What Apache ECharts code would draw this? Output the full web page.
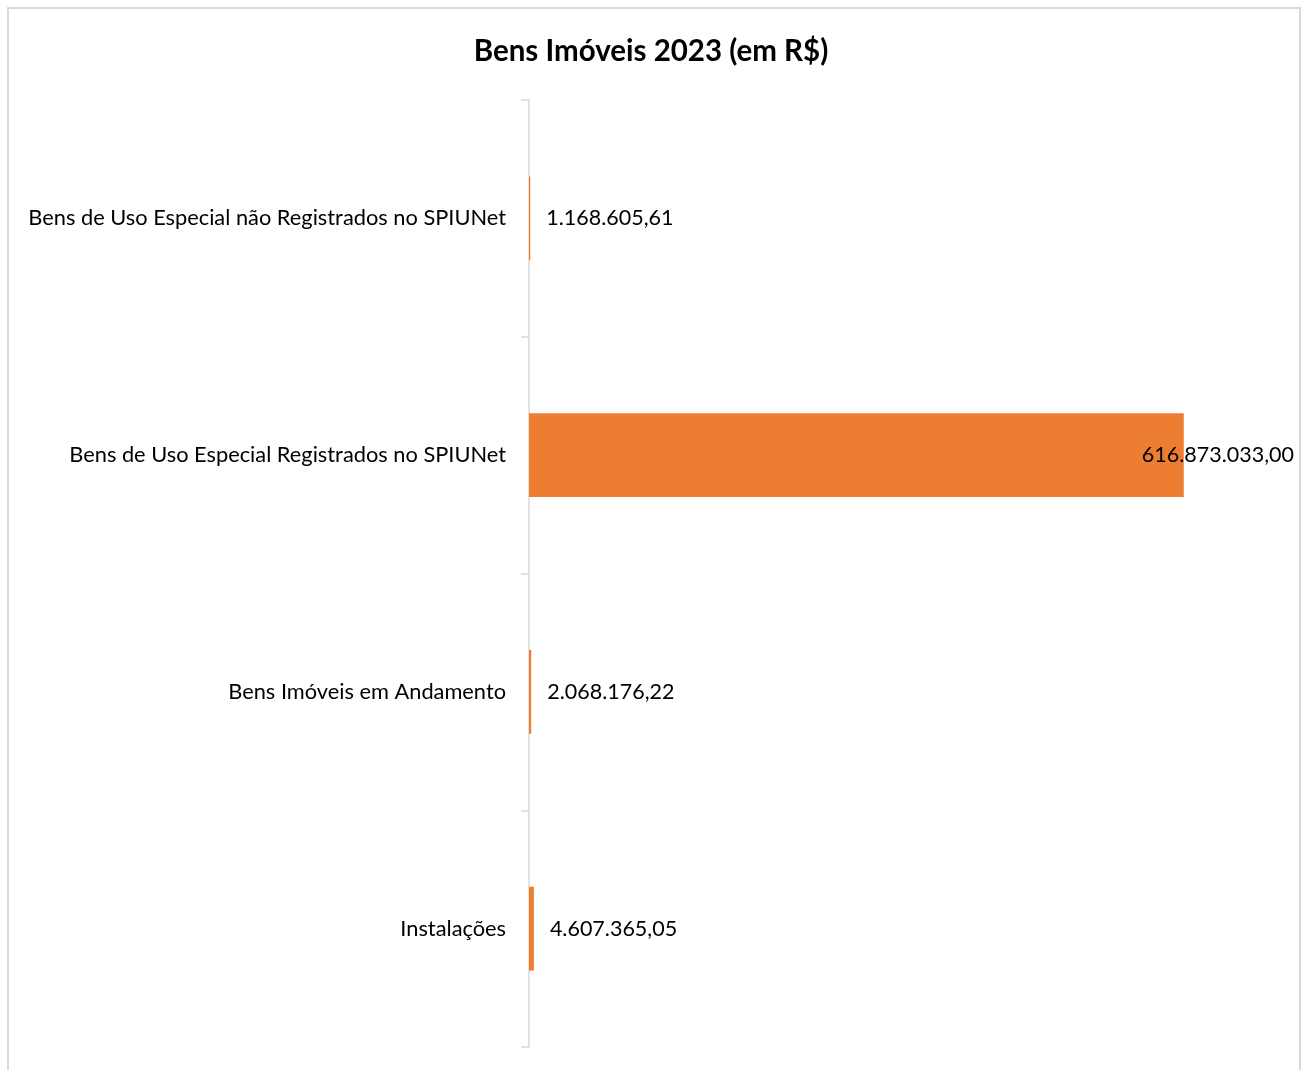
<!DOCTYPE html>
<html>
<head>
<meta charset="utf-8">
<script src="https://cdn.jsdelivr.net/npm/echarts@6/dist/echarts.min.js"></script>
<style>
html,body{margin:0;padding:0;background:#fff;}
#chart{width:1302px;height:1070px;}
</style>
</head>
<body>
<div id="chart"></div>
<script>
const titleText = 'Bens Imóveis 2023 (em R$)';
const categories = [
  'Bens de Uso Especial não Registrados no SPIUNet',
  'Bens de Uso Especial Registrados no SPIUNet',
  'Bens Imóveis em Andamento',
  'Instalações'
];
const values = [1168605.61, 616873033.00, 2068176.22, 4607365.05];
const barColor = '#ED7D31';
const fontFam = 'Lato, "Open Sans", sans-serif';

function fmtBR(v) {
  const parts = v.toFixed(2).split('.');
  const intPart = parts[0].replace(/\B(?=(\d{3})+(?!\d))/g, '.');
  return intPart + ',' + parts[1];
}

const chart = echarts.init(document.getElementById('chart'));
const maxVal = Math.max(...values);
chart.setOption({
  animation: false,
  title: {
    text: titleText,
    left: 'center',
    top: 31,
    textStyle: {fontFamily: fontFam, fontSize: 29.5, fontWeight: 'bold', color: '#000'}
  },
  graphic: [{
    type: 'rect',
    shape: {x: 8, y: 8, width: 1292, height: 1110},
    style: {fill: 'none', stroke: '#d9d9d9', lineWidth: 2},
    silent: true
  }],
  grid: {left: 529, top: 100, bottom: 23, width: 743},
  xAxis: {
    type: 'value',
    min: 0,
    max: 700000000,
    show: false
  },
  yAxis: {
    type: 'category',
    data: categories,
    inverse: true,
    axisLine: {show: true, lineStyle: {color: '#d9d9d9', width: 1.5}},
    axisTick: {show: true, length: 8, lineStyle: {color: '#d9d9d9', width: 1.5}},
    axisLabel: {fontFamily: fontFam, fontSize: 21.8, color: '#000', margin: 23}
  },
  series: [{
    type: 'bar',
    barWidth: '35.4%',
    itemStyle: {color: barColor},
    data: values.map(v => v === maxVal ? {
      value: v,
      label: {offset: [-58, 0]}
    } : v),
    label: {
      show: true,
      position: 'right',
      distance: 16,
      fontFamily: fontFam,
      fontSize: 21.5,
      color: '#000',
      formatter: p => fmtBR(p.value)
    }
  }]
});
</script>
</body>
</html>
